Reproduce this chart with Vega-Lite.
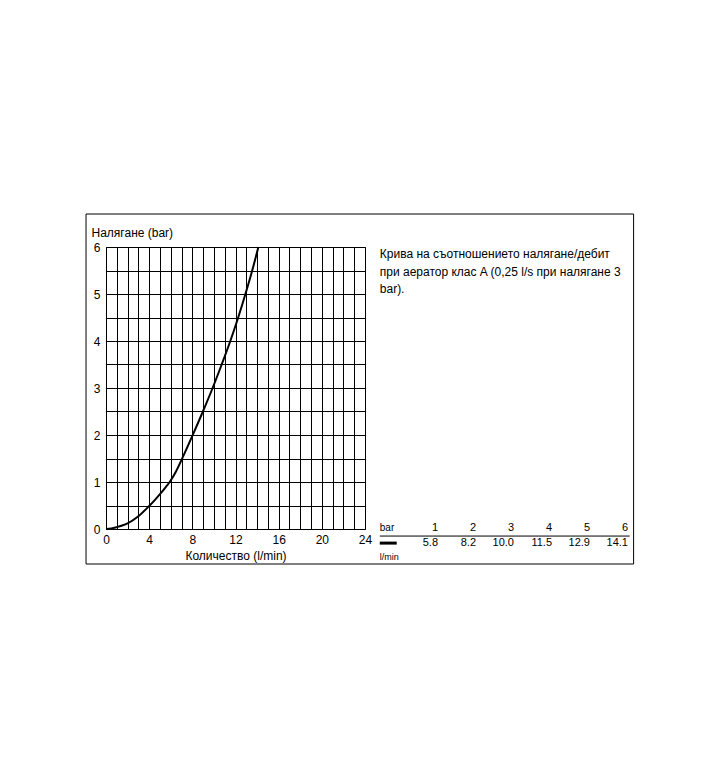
{
  "$schema": "https://vega.github.io/schema/vega-lite/v6.json",
  "width": 259,
  "height": 282,
  "autosize": {"type": "none"},
  "padding": {"left": 106, "top": 247, "right": 355, "bottom": 251},
  "background": "white",
  "config": {
    "font": "Liberation Sans",
    "view": {"stroke": "black", "strokeWidth": 1},
    "axis": {"labelFont": "Liberation Sans", "titleFont": "Liberation Sans", "labelColor": "black", "titleColor": "black", "labelFontSize": 12, "titleFontSize": 12, "titleFontWeight": "normal"}
  },
  "datasets": {
    "curve": [
      {"q": 0, "p": 0}, {"q": 0.5, "p": 0.012}, {"q": 1, "p": 0.04}, {"q": 1.5, "p": 0.075}, {"q": 2, "p": 0.12},
      {"q": 3, "p": 0.27}, {"q": 4, "p": 0.49}, {"q": 4.5, "p": 0.61}, {"q": 5, "p": 0.74}, {"q": 5.5, "p": 0.88},
      {"q": 5.9, "p": 1.0}, {"q": 6.5, "p": 1.23},
      {"q": 7.0, "p": 1.47}, {"q": 8.0, "p": 1.98}, {"q": 8.98, "p": 2.5}, {"q": 9.88, "p": 3.0},
      {"q": 10.72, "p": 3.5}, {"q": 11.52, "p": 4.0}, {"q": 12.25, "p": 4.5}, {"q": 12.92, "p": 5.0},
      {"q": 13.55, "p": 5.5}, {"q": 14.12, "p": 6.0}
    ],
    "table": [
      {"bar": "1", "flow": "5.8", "col": 1}, {"bar": "2", "flow": "8.2", "col": 2},
      {"bar": "3", "flow": "10.0", "col": 3}, {"bar": "4", "flow": "11.5", "col": 4},
      {"bar": "5", "flow": "12.9", "col": 5}, {"bar": "6", "flow": "14.1", "col": 6}
    ]
  },
  "resolve": {"scale": {"x": "independent"}, "axis": {"x": "independent", "y": "independent"}},
  "layer": [
    {
      "resolve": {"axis": {"x": "independent", "y": "independent"}},
      "layer": [
        {
          "data": {"name": "curve"},
          "mark": {"type": "line", "color": "black", "strokeWidth": 2, "interpolate": "monotone"},
          "encoding": {
            "x": {"field": "q", "type": "quantitative", "scale": {"domain": [0, 24], "nice": false, "zero": false},
              "axis": {"values": [0,1,2,3,4,5,6,7,8,9,10,11,12,13,14,15,16,17,18,19,20,21,22,23,24],
                "labelExpr": "datum.value % 4 === 0 ? format(datum.value, 'd') : ''", "grid": true, "gridColor": "black", "gridOpacity": 1, "gridWidth": 1,
                "ticks": false, "domain": false, "labelPadding": 5, "title": "Количество (l/min)", "titlePadding": 5, "labelFlush": false}},
            "y": {"field": "p", "type": "quantitative", "scale": {"domain": [0, 6], "nice": false, "zero": false},
              "axis": {"values": [0,0.5,1,1.5,2,2.5,3,3.5,4,4.5,5,5.5,6],
                "labelExpr": "datum.value % 1 === 0 ? format(datum.value, 'd') : ''", "grid": true, "gridColor": "black", "gridOpacity": 1, "gridWidth": 1,
                "ticks": false, "domain": false, "labelPadding": 6, "labelFlush": false,
                "title": "Налягане (bar)", "titleAngle": 0, "titleAlign": "left", "titleBaseline": "middle", "titleX": -15, "titleY": -15}}
          }
        },
        {
          "data": {"values": [{}]},
          "mark": {"type": "rect", "fill": null, "stroke": "black", "strokeWidth": 1},
          "encoding": {
            "x": {"datum": -1.85, "type": "quantitative", "scale": {"domain": [0, 24], "nice": false, "zero": false}, "axis": null},
            "x2": {"datum": 48.89},
            "y": {"datum": 6.702, "type": "quantitative", "scale": {"domain": [0, 6], "nice": false, "zero": false}, "axis": null},
            "y2": {"datum": -0.745}
          }
        },
        {
          "data": {"values": [{}]},
          "mark": {"type": "text", "align": "left", "baseline": "middle", "fontSize": 12, "lineHeight": 17.5, "color": "black",
            "text": ["Крива на съотношението налягане/дебит", "при аератор клас A  (0,25 l/s при налягане 3", "bar)."]},
          "encoding": {
            "x": {"datum": 25.37, "type": "quantitative", "scale": {"domain": [0, 24], "nice": false, "zero": false}, "axis": null},
            "y": {"datum": 5.85, "type": "quantitative", "scale": {"domain": [0, 6], "nice": false, "zero": false}, "axis": null}
          }
        },
        {
          "data": {"values": [{}]},
          "mark": {"type": "text", "align": "left", "baseline": "middle", "fontSize": 10, "color": "black", "text": "bar"},
          "encoding": {
            "x": {"datum": 25.37, "type": "quantitative", "scale": {"domain": [0, 24], "nice": false, "zero": false}, "axis": null},
            "y": {"datum": 0.02, "type": "quantitative", "scale": {"domain": [0, 6], "nice": false, "zero": false}, "axis": null}
          }
        },
        {
          "data": {"values": [{}]},
          "mark": {"type": "text", "align": "left", "baseline": "middle", "fontSize": 9, "color": "black", "text": "l/min"},
          "encoding": {
            "x": {"datum": 25.37, "type": "quantitative", "scale": {"domain": [0, 24], "nice": false, "zero": false}, "axis": null},
            "y": {"datum": -0.6, "type": "quantitative", "scale": {"domain": [0, 6], "nice": false, "zero": false}, "axis": null}
          }
        },
        {
          "data": {"values": [{}]},
          "mark": {"type": "rule", "color": "black", "strokeWidth": 1},
          "encoding": {
            "x": {"datum": 25.37, "type": "quantitative", "scale": {"domain": [0, 24], "nice": false, "zero": false}, "axis": null},
            "x2": {"datum": 48.52},
            "y": {"datum": -0.15, "type": "quantitative", "scale": {"domain": [0, 6], "nice": false, "zero": false}, "axis": null}
          }
        },
        {
          "data": {"values": [{}]},
          "mark": {"type": "rule", "color": "black", "strokeWidth": 3},
          "encoding": {
            "x": {"datum": 25.37, "type": "quantitative", "scale": {"domain": [0, 24], "nice": false, "zero": false}, "axis": null},
            "x2": {"datum": 26.94},
            "y": {"datum": -0.3, "type": "quantitative", "scale": {"domain": [0, 6], "nice": false, "zero": false}, "axis": null}
          }
        }
      ]
    },
    {
      "data": {"name": "table"},
      "mark": {"type": "text", "align": "right", "baseline": "middle", "fontSize": 11, "color": "black"},
      "encoding": {
        "x": {"field": "col", "type": "quantitative", "scale": {"domain": [1, 6], "range": [332, 522], "nice": false, "zero": false}, "axis": null},
        "y": {"datum": 0.02, "type": "quantitative", "scale": {"domain": [0, 6], "nice": false, "zero": false}, "axis": null},
        "text": {"field": "bar"}
      }
    },
    {
      "data": {"name": "table"},
      "mark": {"type": "text", "align": "right", "baseline": "middle", "fontSize": 11, "color": "black"},
      "encoding": {
        "x": {"field": "col", "type": "quantitative", "scale": {"domain": [1, 6], "range": [332, 522], "nice": false, "zero": false}, "axis": null},
        "y": {"datum": -0.3, "type": "quantitative", "scale": {"domain": [0, 6], "nice": false, "zero": false}, "axis": null},
        "text": {"field": "flow"}
      }
    }
  ]
}
